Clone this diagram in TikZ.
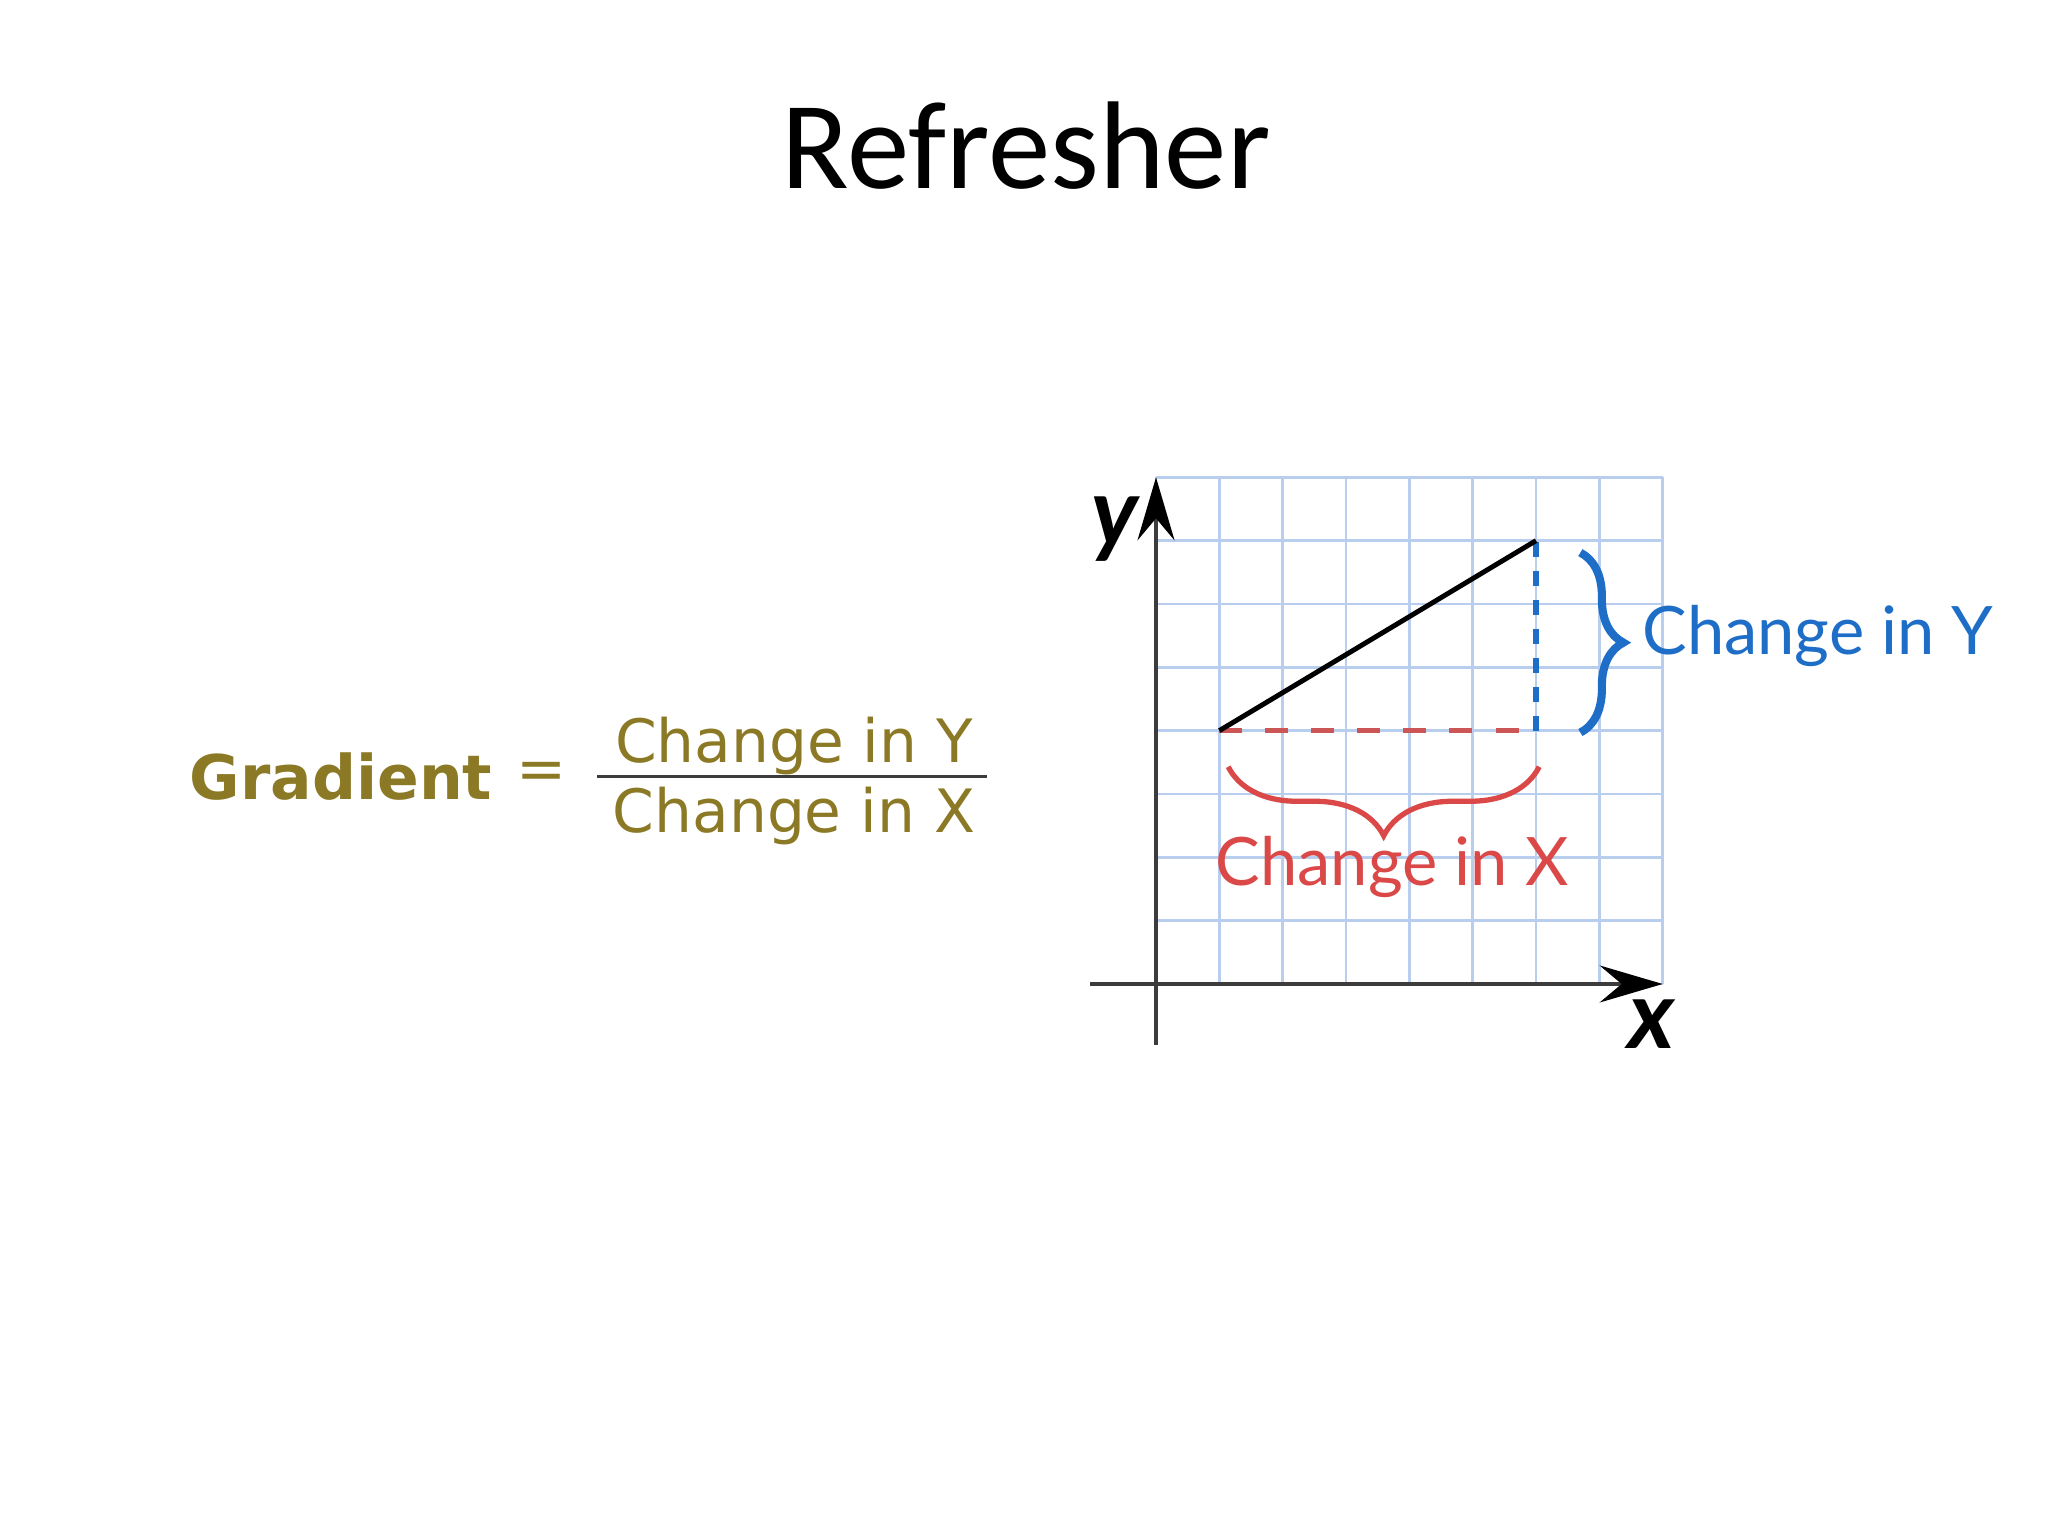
\documentclass[tikz,border=0pt]{standalone}
\usepackage{fontspec}
\setmainfont{Carlito}
\newfontfamily\verdfont{DejaVu Sans}
\newfontfamily\handfont{Lato}
\usetikzlibrary{arrows.meta,decorations.pathreplacing}
\definecolor{gradolive}{RGB}{139,121,38}
\definecolor{gridblue}{RGB}{185,206,238}
\definecolor{axisgray}{RGB}{60,60,60}
\definecolor{chgred}{RGB}{218,72,72}
\definecolor{dashred}{RGB}{204,86,86}
\definecolor{chgblue}{RGB}{30,110,200}
\tikzset{
  gridln/.style={gridblue, line width=0.7pt},
  ax/.style={axisgray, line width=1pt},
  tip/.style={-{Stealth[length=6.3mm, width=3.7mm, inset=2.2mm, color=black]}},
  slope/.style={black, line width=1.4pt},
  dashx/.style={dashred, line width=1.5pt, dash pattern=on 2.3mm off 2.3mm},
  dashy/.style={chgblue, line width=1.5pt, dash pattern=on 1.5mm off 1.4mm},
  bracex/.style={chgred, line width=1.5pt, decorate,
    decoration={brace, amplitude=6.9mm}},
  bracey/.style={chgblue, line width=2.3pt, decorate,
    decoration={brace, amplitude=4.3mm}},
}

\begin{document}
\begin{tikzpicture}[
  x=0.01cm, y=0.01cm,
  every node/.style={inner sep=0pt},
  ttl/.style={font=\fontsize{35.5}{40}\selectfont, anchor=base},
  grad/.style={font=\verdfont\bfseries\fontsize{17.5}{21}\selectfont,
               text=gradolive, anchor=base west},
  frac/.style={font=\verdfont\fontsize{17}{20}\selectfont, text=gradolive},
  hand/.style={font=\handfont\fontsize{19}{22}\selectfont, anchor=base},
  axlbl/.style={font=\handfont\bfseries\itshape\fontsize{27}{30}\selectfont},
]
\useasboundingbox[fill=white] (0,0) rectangle (2048,1536);
% title
\node[ttl] (title) at (1026,1347) {Refresher};
% formula
\node[grad] (grad) at (189,736) {Gradient};
\node[frac] (eq)  at (542,760) {=};
\node[frac, anchor=base] (num) at (794,773) {Change in Y};
\node[frac, anchor=base] (den) at (794,703) {Change in X};
\draw[axisgray, line width=0.85pt] (597,759) -- (987,759);
% graph
\begin{scope}[shift={(1156,552)}, x=0.633cm, y=0.633cm]
  \draw[gridln, step=1] (0,0) grid (8,8);
  \draw[ax, tip] (0,-0.96) -- (0,8);
  \draw[ax, tip] (-1.04,0) -- (8,0);
  \coordinate (A) at (1,4);
  \coordinate (B) at (6,7);
  \coordinate (C) at (6,4);
  \draw[dashx] (A) -- (C);
  \draw[dashy] (C) -- (B);
  \draw[slope] (A) -- (B);
  \draw[bracex] (6.05,3.43) -- (1.14,3.43);
  \draw[bracey] (6.70,6.81) -- (6.70,3.97);
\end{scope}
% labels
\node[axlbl] (ylbl) at (1115,1007) {y};
\node[axlbl] (xlbl) at (1652,512) {x};
\node[hand, text=chgblue] (dy) at (1818,881) {Change in Y};
\node[hand, text=chgred]  (dx) at (1392,650) {Change in X};
\end{tikzpicture}
\end{document}
